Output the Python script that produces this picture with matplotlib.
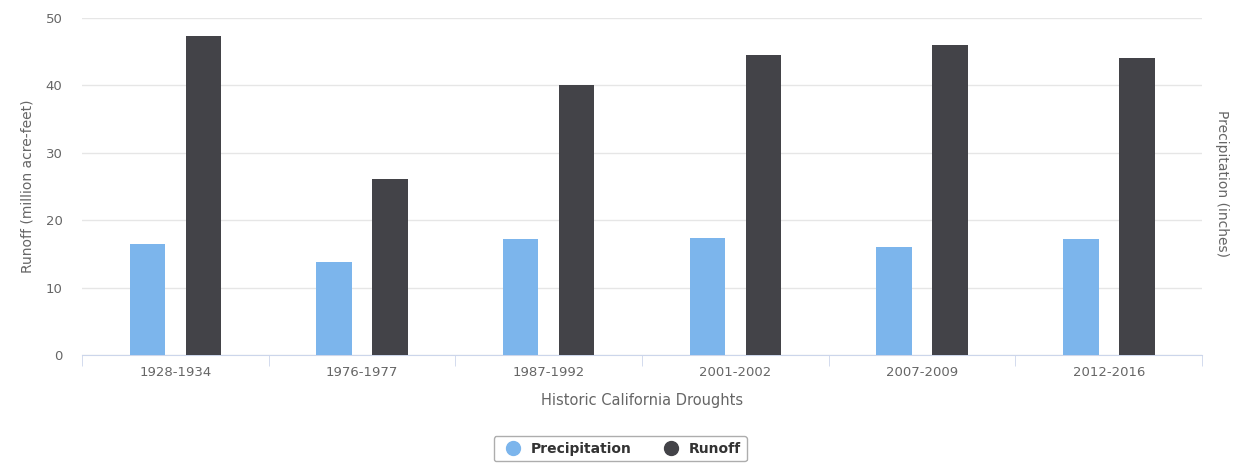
import matplotlib.pyplot as plt
import numpy as np
from matplotlib.lines import Line2D

# data
droughts = ["1928-1934", "1976-1977", "1987-1992", "2001-2002", "2007-2009", "2012-2016"]
precipitation = [16.4, 13.8, 17.2, 17.4, 16.0, 17.2]
runoff = [47.3, 26.1, 40.1, 44.5, 46.0, 44.1]

PRECIP_COLOR = "#7cb5ec"
RUNOFF_COLOR = "#434348"
TEXT_COLOR = "#666666"

fig = plt.figure(figsize=(12.33, 4.70), dpi=100)
ax = fig.add_axes([0.0665, 0.2447, 0.9085, 0.717])

x = np.arange(len(droughts))
ax.bar(x - 0.15, precipitation, width=0.19, color=PRECIP_COLOR, zorder=3)
ax.bar(x + 0.15, runoff, width=0.19, color=RUNOFF_COLOR, zorder=3)

ax.set_xlim(-0.5, len(droughts) - 0.5)
ax.set_ylim(0, 50)
ax.set_yticks(range(0, 51, 10))
ax.grid(axis="y", color="#e6e6e6", linewidth=1, zorder=0)

for side in ["top", "right", "left"]:
    ax.spines[side].set_visible(False)
ax.spines["bottom"].set_color("#ccd6eb")

# category labels in the middle, tick marks at the boundaries
ax.set_xticks(x)
ax.set_xticklabels(droughts, color=TEXT_COLOR, fontsize=9.5)
ax.tick_params(axis="x", length=0, pad=8)
ax.set_xticks(np.arange(-0.5, len(droughts)), minor=True)
ax.tick_params(axis="x", which="minor", length=8, color="#ccd6eb")
ax.tick_params(axis="y", length=0, labelcolor=TEXT_COLOR, labelsize=9.5, pad=14)

ax.set_xlabel("Historic California Droughts", color=TEXT_COLOR, fontsize=10.5, labelpad=10)
ax.set_ylabel("Runoff (million acre-feet)", color=TEXT_COLOR, fontsize=10, labelpad=8)

# right axis carries only its title
fig.text(0.991, 0.61, "Precipitation (inches)", color=TEXT_COLOR, fontsize=10,
         rotation=270, ha="center", va="center")

handles = [
    Line2D([], [], marker="o", linestyle="", markersize=10, color=PRECIP_COLOR),
    Line2D([], [], marker="o", linestyle="", markersize=10, color=RUNOFF_COLOR),
]
leg = fig.legend(handles, ["Precipitation", "Runoff"], loc="center",
                 bbox_to_anchor=(0.503, 0.045), ncol=2, frameon=True,
                 fancybox=True, edgecolor="#999999", handletextpad=0.3,
                 columnspacing=1.8, prop={"weight": "bold", "size": 10})
for t in leg.get_texts():
    t.set_color("#333333")

fig.savefig("out.png", dpi=100)
